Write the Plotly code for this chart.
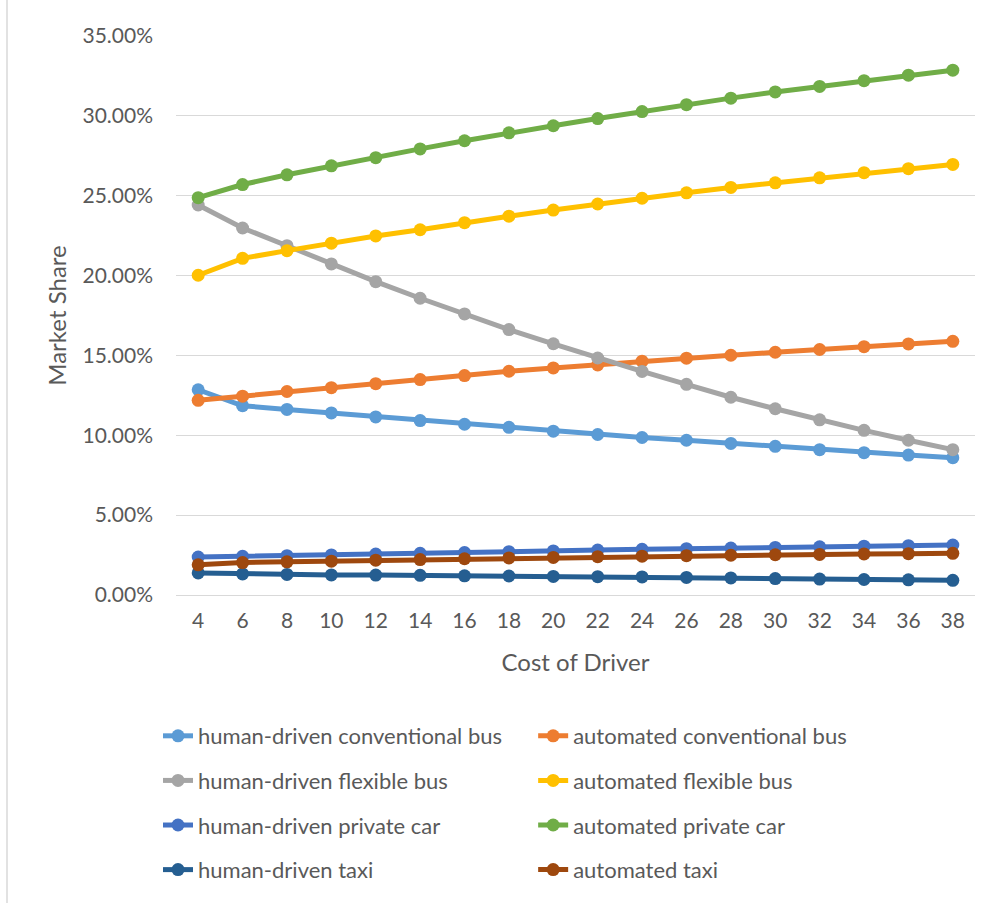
import plotly.graph_objects as go

# Cost of driver (x axis categories)
cost_of_driver = [4, 6, 8, 10, 12, 14, 16, 18, 20, 22, 24, 26, 28, 30, 32, 34, 36, 38]

# Market share per mode, in percent
hd_conventional_bus = [12.85, 11.85, 11.62, 11.40, 11.15, 10.92, 10.69, 10.50, 10.26,
                       10.05, 9.86, 9.69, 9.49, 9.31, 9.10, 8.91, 8.76, 8.60]
auto_conventional_bus = [12.19, 12.45, 12.74, 12.98, 13.23, 13.49, 13.74, 14.01, 14.22,
                         14.40, 14.64, 14.83, 15.01, 15.20, 15.37, 15.55, 15.72, 15.88]
hd_flexible_bus = [24.42, 22.98, 21.87, 20.73, 19.62, 18.58, 17.60, 16.62, 15.73,
                   14.84, 14.00, 13.19, 12.38, 11.66, 10.97, 10.31, 9.69, 9.10]
auto_flexible_bus = [20.02, 21.08, 21.56, 22.03, 22.48, 22.87, 23.31, 23.72, 24.10,
                     24.48, 24.84, 25.18, 25.52, 25.81, 26.12, 26.44, 26.69, 26.96]
hd_private_car = [2.38, 2.42, 2.46, 2.51, 2.56, 2.61, 2.66, 2.71, 2.76,
                  2.81, 2.86, 2.90, 2.94, 2.98, 3.02, 3.06, 3.09, 3.13]
auto_private_car = [24.88, 25.70, 26.31, 26.87, 27.38, 27.93, 28.44, 28.94, 29.38,
                    29.83, 30.27, 30.70, 31.11, 31.50, 31.84, 32.20, 32.55, 32.86]
hd_taxi = [1.38, 1.32, 1.29, 1.26, 1.25, 1.23, 1.20, 1.19, 1.16,
           1.15, 1.13, 1.10, 1.07, 1.03, 1.00, 0.97, 0.95, 0.92]
auto_taxi = [1.89, 2.03, 2.08, 2.12, 2.18, 2.22, 2.27, 2.32, 2.35,
             2.40, 2.43, 2.46, 2.49, 2.52, 2.54, 2.57, 2.59, 2.61]

series = [
    ("human-driven conventional bus", hd_conventional_bus, "#5B9BD5", "legend"),
    ("automated conventional bus", auto_conventional_bus, "#ED7D31", "legend2"),
    ("human-driven flexible bus", hd_flexible_bus, "#A5A5A5", "legend"),
    ("automated flexible bus", auto_flexible_bus, "#FFC000", "legend2"),
    ("human-driven private car", hd_private_car, "#4472C4", "legend"),
    ("automated private car", auto_private_car, "#70AD47", "legend2"),
    ("human-driven taxi", hd_taxi, "#255E91", "legend"),
    ("automated taxi", auto_taxi, "#9E480E", "legend2"),
]

FONT = "Lato, Carlito, Calibri, sans-serif"
TXT = "#595959"

fig = go.Figure()
for i, (name, vals, color, leg) in enumerate(series):
    fig.add_trace(go.Scatter(
        x=cost_of_driver,
        y=[v / 100 for v in vals],
        name=name,
        mode="lines+markers",
        line=dict(color=color, width=5),
        marker=dict(color=color, size=13),
        legend=leg,
        legendgroup=f"g{i}",
    ))

legend_common = dict(
    orientation="v",
    yanchor="top",
    y=-0.2147,
    font=dict(family=FONT, size=22, color=TXT),
    tracegroupgap=13,
    bgcolor="rgba(0,0,0,0)",
)

fig.update_layout(
    width=995,
    height=903,
    margin=dict(l=176, r=20, t=36, b=308, autoexpand=False),
    paper_bgcolor="white",
    plot_bgcolor="white",
    font=dict(family=FONT, color=TXT),
    showlegend=True,
    legend=dict(x=-0.0225, xanchor="left", **legend_common),
    legend2=dict(x=0.447, xanchor="left", **legend_common),
    xaxis=dict(
        range=[3, 39],
        tickmode="array",
        tickvals=cost_of_driver,
        ticktext=[str(c) for c in cost_of_driver],
        showgrid=False,
        zeroline=False,
        showline=True,
        linecolor="#D9D9D9",
        linewidth=1,
        ticks="",
        ticklabelstandoff=7,
        tickfont=dict(family=FONT, size=21, color=TXT),
        title=dict(text="Cost of Driver", font=dict(family=FONT, size=24, color=TXT), standoff=22),
    ),
    yaxis=dict(
        range=[0, 0.35],
        tick0=0,
        dtick=0.05,
        tickformat=".2%",
        showgrid=True,
        gridcolor="#D9D9D9",
        gridwidth=1,
        zeroline=False,
        showline=False,
        ticks="",
        ticklabelstandoff=22,
        tickfont=dict(family=FONT, size=21, color=TXT),
        title=dict(text="Market Share", font=dict(family=FONT, size=24, color=TXT), standoff=9),
    ),
    shapes=[
        dict(type="line", xref="paper", yref="paper",
             x0=(7 - 176) / 799, x1=(7 - 176) / 799, y0=-1.0, y1=1.2,
             line=dict(color="#D9D9D9", width=1.5)),
    ],
)

fig.write_html("out.html")
